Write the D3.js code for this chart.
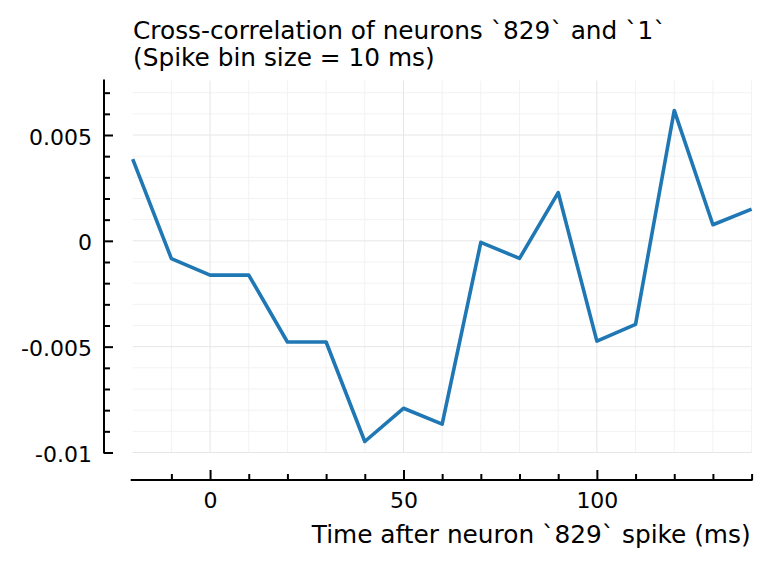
<!DOCTYPE html>
<html>
<head>
<meta charset="utf-8">
<script src="https://cdn.jsdelivr.net/npm/d3@7"></script>
<style>
  html, body { margin: 0; padding: 0; background: #fff; }
  svg { display: block; }
  text { font-family: "DejaVu Sans", sans-serif; fill: #000; }
</style>
</head>
<body>
<svg id="chart" width="772" height="568"></svg>
<script>
// ---- data ----
const lagsMs = [-20, -10, 0, 10, 20, 30, 40, 50, 60, 70, 80, 90, 100, 110, 120, 130, 140];
const crossCorr = [0.00386, -0.00084, -0.00162, -0.00162, -0.00478, -0.00478, -0.00948, -0.00791, -0.00866,
                   -0.00007, -0.00083, 0.00228, -0.00474, -0.00395, 0.00616, 0.00076, 0.0015];
const xMajorTicks = [0, 50, 100];
const xMinorTicks = [-10, 10, 20, 30, 40, 60, 70, 80, 90, 110, 120, 130, 140];
const yMajorTicks = [-0.01, -0.005, 0, 0.005];
const yMajorLabels = ["-0.01", "-0.005", "0", "0.005"];
const yMinorTicks = [-0.009, -0.008, -0.007, -0.006, -0.004, -0.003, -0.002, -0.001,
                     0.001, 0.002, 0.003, 0.004, 0.006, 0.007];
const titleLines = ["Cross-correlation of neurons `829` and `1`", "(Spike bin size = 10 ms)"];
const xLabel = "Time after neuron `829` spike (ms)";

// ---- layout ----
const svg = d3.select("#chart");
const plotLeft = 132.7, plotRight = 751.6;
const yAxisX = 104, xAxisY = 480;
const x = d3.scaleLinear().domain([-20, 140]).range([plotLeft, plotRight]);
const y = d3.scaleLinear().domain([-0.01, 0.005]).range([452.5, 135]);
const yTopVal = 0.00757;
const plotTop = y(yTopVal);

// ---- grid ----
const grid = svg.append("g");
grid.selectAll("line.ygm").data(yMinorTicks).join("line")
  .attr("x1", plotLeft).attr("x2", plotRight)
  .attr("y1", d => y(d)).attr("y2", d => y(d))
  .attr("stroke", "#f2f2f2").attr("stroke-width", 1);
grid.selectAll("line.xgm").data(xMinorTicks).join("line")
  .attr("y1", plotTop).attr("y2", y(-0.01))
  .attr("x1", d => x(d)).attr("x2", d => x(d))
  .attr("stroke", "#f2f2f2").attr("stroke-width", 1);
grid.selectAll("line.yg").data(yMajorTicks).join("line")
  .attr("x1", plotLeft).attr("x2", plotRight)
  .attr("y1", d => y(d)).attr("y2", d => y(d))
  .attr("stroke", "#e6e6e6").attr("stroke-width", 1);
grid.selectAll("line.xg").data(xMajorTicks).join("line")
  .attr("y1", plotTop).attr("y2", y(-0.01))
  .attr("x1", d => x(d)).attr("x2", d => x(d))
  .attr("stroke", "#e6e6e6").attr("stroke-width", 1);

// ---- line ----
const line = d3.line().x((d, i) => x(lagsMs[i])).y(d => y(d));
svg.append("path").datum(crossCorr)
  .attr("d", line)
  .attr("fill", "none")
  .attr("stroke", "#1f77b4")
  .attr("stroke-width", 3.6)
  .attr("stroke-linejoin", "round");

// ---- y axis ----
const yAxisG = svg.append("g").attr("transform", `translate(${yAxisX},0)`);
yAxisG.call(d3.axisLeft(y).tickValues(yMajorTicks)
    .tickFormat((d, i) => yMajorLabels[i])
    .tickSizeInner(-9).tickSizeOuter(0).tickPadding(12));
yAxisG.select(".domain").remove();
yAxisG.selectAll(".tick line").attr("stroke", "#000").attr("stroke-width", 2);
yAxisG.selectAll(".tick text").attr("font-size", 22).attr("dy", "0.41em")
  .attr("font-family", "DejaVu Sans");
const yMinorG = svg.append("g").attr("transform", `translate(${yAxisX},0)`);
yMinorG.call(d3.axisLeft(y).tickValues(yMinorTicks).tickFormat("")
    .tickSizeInner(-6).tickSizeOuter(0));
yMinorG.select(".domain").remove();
yMinorG.selectAll(".tick line").attr("stroke", "#000").attr("stroke-width", 2);
svg.append("line").attr("x1", yAxisX).attr("x2", yAxisX)
  .attr("y1", plotTop - 1).attr("y2", y(-0.01) + 1)
  .attr("stroke", "#000").attr("stroke-width", 2);

// ---- x axis ----
const xAxisG = svg.append("g").attr("transform", `translate(0,${xAxisY})`);
xAxisG.call(d3.axisBottom(x).tickValues(xMajorTicks).tickFormat(d3.format("d"))
    .tickSizeInner(-10).tickSizeOuter(0).tickPadding(12));
xAxisG.select(".domain").remove();
xAxisG.selectAll(".tick line").attr("stroke", "#000").attr("stroke-width", 2);
xAxisG.selectAll(".tick text").attr("font-size", 22).attr("font-family", "DejaVu Sans");
const xMinorG = svg.append("g").attr("transform", `translate(0,${xAxisY})`);
xMinorG.call(d3.axisBottom(x).tickValues(xMinorTicks).tickFormat("")
    .tickSizeInner(-6).tickSizeOuter(0));
xMinorG.select(".domain").remove();
xMinorG.selectAll(".tick line").attr("stroke", "#000").attr("stroke-width", 2);
svg.append("line").attr("x1", plotLeft - 2).attr("x2", plotRight + 1)
  .attr("y1", xAxisY).attr("y2", xAxisY)
  .attr("stroke", "#000").attr("stroke-width", 2);

// ---- labels ----
svg.append("text").attr("x", plotRight - 1).attr("y", 543)
  .attr("text-anchor", "end").attr("font-size", 24.8).text(xLabel);
svg.selectAll("text.title").data(titleLines).join("text")
  .attr("class", "title")
  .attr("x", 133).attr("y", (d, i) => 38.5 + i * 27)
  .attr("font-size", 24.8).text(d => d);
</script>
</body>
</html>
